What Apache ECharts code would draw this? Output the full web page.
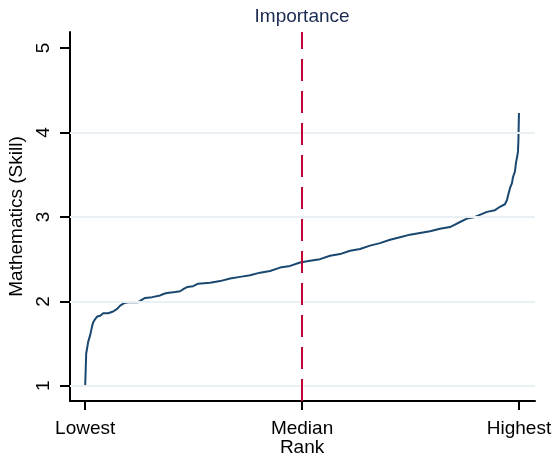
<!DOCTYPE html>
<html>
<head>
<meta charset="utf-8">
<script src="https://cdn.jsdelivr.net/npm/echarts@6/dist/echarts.min.js"></script>
<style>
  html, body { margin: 0; padding: 0; background: #fff; }
  #chart { width: 559px; height: 459px; }
</style>
</head>
<body>
<div id="chart"></div>
<script>
// rank percentile (0 = lowest, 100 = highest) vs skill score
const rank = [0, 0.12, 0.23, 0.69, 1.15, 1.61, 1.84, 2.3, 2.76, 3.46, 4.15, 5.3, 6.45, 7.37, 8.06, 8.99, 9.91,
  12.21, 13.13, 13.82, 15.44, 17.28, 18.2, 18.89, 20.74, 21.89, 22.81, 23.5, 24.88, 26.04, 28.8, 31.11,
  33.41, 35.71, 38.02, 40.32, 42.63, 44.93, 47.24, 49.54, 51.84, 54.15, 56.45, 58.76, 61.06, 63.36, 65.67,
  67.97, 70.28, 72.58, 74.88, 77.19, 79.49, 81.8, 84.1, 85.25, 86.41, 88.02, 89.86, 92.63, 94.47, 95.62,
  96.77, 97.24, 97.47, 97.93, 98.39, 98.62, 99.08, 99.31, 99.54, 99.77, 99.88, 100];
const skill = [1.0, 1.19, 1.38, 1.52, 1.6, 1.71, 1.75, 1.79, 1.82, 1.83, 1.86, 1.86, 1.88, 1.91, 1.95, 1.98, 1.99,
  1.99, 2.02, 2.04, 2.05, 2.07, 2.09, 2.1, 2.11, 2.12, 2.15, 2.17, 2.18, 2.21, 2.22, 2.24,
  2.27, 2.29, 2.31, 2.34, 2.36, 2.4, 2.42, 2.46, 2.48, 2.5, 2.54, 2.56, 2.6, 2.62, 2.66,
  2.69, 2.73, 2.76, 2.79, 2.81, 2.83, 2.86, 2.88, 2.91, 2.94, 2.98, 3.0, 3.06, 3.08, 3.12,
  3.15, 3.2, 3.25, 3.34, 3.4, 3.47, 3.54, 3.64, 3.7, 3.77, 3.91, 4.23];

const xTicks = [0, 50, 100];
const xTickLabels = ['Lowest', 'Median\nRank', 'Highest'];
const yTicks = [1, 2, 3, 4, 5];
const gridValues = [1, 2, 3, 4];
const medianRank = 50;

const font = 'Liberation Sans, Arial, sans-serif';
const chart = echarts.init(document.getElementById('chart'));

chart.setOption({
  animation: false,
  grid: { left: 70, right: 24, top: 32, bottom: 58, outerBoundsMode: 'none' },
  xAxis: {
    type: 'value',
    min: -3.5,
    max: 103.7,
    axisLine: { onZero: false, lineStyle: { color: '#000', width: 2 } },
    axisTick: { customValues: xTicks, length: 9, lineStyle: { color: '#000', width: 2 } },
    axisLabel: {
      customValues: xTicks,
      formatter: v => xTickLabels[xTicks.indexOf(v)],
      color: '#000', fontFamily: font, fontSize: 19, lineHeight: 19, margin: 18
    },
    splitLine: { show: false }
  },
  yAxis: {
    type: 'value',
    min: 0.82,
    max: 5.19,
    name: 'Mathematics (Skill)',
    nameLocation: 'middle',
    nameGap: 39,
    nameTextStyle: { color: '#000', fontFamily: font, fontSize: 19 },
    axisLine: { show: true, onZero: false, lineStyle: { color: '#000', width: 2 } },
    axisTick: { show: true, customValues: yTicks, length: 10, lineStyle: { color: '#000', width: 2 } },
    axisLabel: {
      customValues: yTicks,
      rotate: 90,
      color: '#000', fontFamily: font, fontSize: 19, margin: 17
    },
    splitLine: { show: false }
  },
  series: [
    {
      type: 'line',
      data: [],
      silent: true,
      markLine: {
        silent: true,
        symbol: 'none',
        label: { show: false },
        lineStyle: { color: '#e9f0f3', width: 2, type: 'solid' },
        data: gridValues.map(v => ({ yAxis: v }))
      }
    },
    {
      type: 'line',
      data: rank.map((r, i) => [r, skill[i]]),
      showSymbol: false,
      lineStyle: { color: '#1a476f', width: 2 },
      markLine: {
        silent: true,
        symbol: 'none',
        lineStyle: { color: '#c10534', width: 2, type: [22, 10] },
        label: {
          show: true, position: 'end', formatter: 'Importance',
          color: '#1a2a50', fontFamily: font, fontSize: 19, distance: 6
        },
        data: [{ xAxis: medianRank }]
      }
    }
  ]
});
</script>
</body>
</html>
